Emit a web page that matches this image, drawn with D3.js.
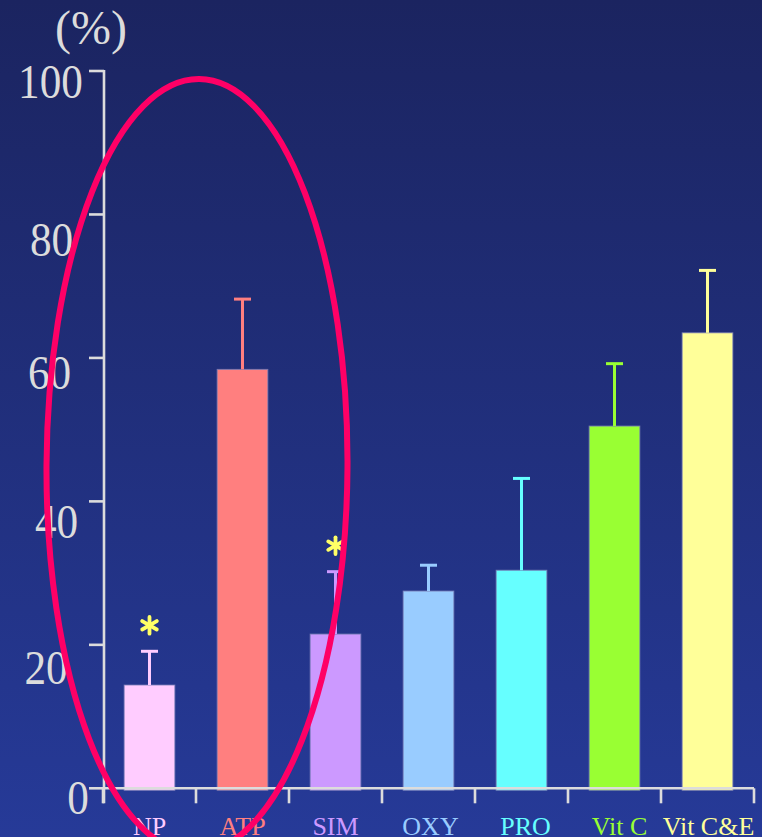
<!DOCTYPE html>
<html>
<head>
<meta charset="utf-8">
<script src="https://cdn.jsdelivr.net/npm/d3@7"></script>
<style>
  html, body { margin: 0; padding: 0; background: #1b2461; }
  svg { display: block; }
</style>
</head>
<body>
<div id="chart"></div>
<script>
// ---- data ----
const categories = ["NP", "ATP", "SIM", "OXY", "PRO", "Vit C", "Vit C&E"];
const means      = [14.4, 58.4, 21.5, 27.5, 30.4, 50.5, 63.5];
const sds        = [4.7, 9.8, 8.7, 3.6, 12.8, 8.7, 8.7];
const significant = [true, false, true, false, false, false, false];
const yTicks     = [0, 20, 40, 60, 80, 100];
const yUnitLabel = "(%)";

// ---- styles / layout (not data) ----
const barColors = ["#ffccff", "#ff7f7f", "#cc99ff", "#99ccff", "#66ffff", "#99ff33", "#ffff99"];
const labelDx   = [0, 0, 0, 2, 4, 5, 1];
// hand-placed tick label centres (as in the original slide)
const tickLabelCx = [78, 46, 56.5, 49.5, 51.5, 50.5];
const tickLabelDy = [9, 23, 20, 15, 25, 10.5];

const W = 762, H = 837;
const svg = d3.select("#chart").append("svg").attr("width", W).attr("height", H);

const defs = svg.append("defs");
const grad = defs.append("linearGradient").attr("id", "bg").attr("x1", 0).attr("y1", 0).attr("x2", 0).attr("y2", 1);
grad.append("stop").attr("offset", "0%").attr("stop-color", "#1b2460");
grad.append("stop").attr("offset", "100%").attr("stop-color", "#263a98");
svg.append("rect").attr("width", W).attr("height", H).attr("fill", "url(#bg)");

const x = d3.scaleBand().domain(categories).range([103, 754]).paddingInner(0.455).paddingOuter(0.2275);
const y = d3.scaleLinear().domain([0, 100]).range([788.3, 71]);
const step = x.step();
const axisColor = "#dcdcdc";
const serif = "'Liberation Serif', 'Times New Roman', serif";

// bars
svg.append("g").selectAll("rect").data(categories).join("rect")
  .attr("x", d => x(d))
  .attr("y", (d, i) => y(means[i]))
  .attr("width", x.bandwidth())
  .attr("height", (d, i) => y(0) + 2 - y(means[i]))
  .attr("fill", (d, i) => barColors[i])
  .attr("stroke", "#7b7fb8").attr("stroke-width", 1).attr("stroke-opacity", 0.8);

// error bars
const eb = svg.append("g");
categories.forEach((c, i) => {
  const cx = x(c) + x.bandwidth() / 2;
  const top = y(means[i] + sds[i]);
  eb.append("line").attr("x1", cx).attr("x2", cx).attr("y1", y(means[i])).attr("y2", top)
    .attr("stroke", barColors[i]).attr("stroke-width", 3);
  eb.append("line").attr("x1", cx - 8.5).attr("x2", cx + 8.5).attr("y1", top).attr("y2", top)
    .attr("stroke", barColors[i]).attr("stroke-width", 3);
});

// significance asterisks
const ast = svg.append("g");
categories.forEach((c, i) => {
  if (!significant[i]) return;
  const cx = x(c) + x.bandwidth() / 2;
  const cy = y(means[i] + sds[i]) - 26;
  const g = ast.append("g").attr("transform", `translate(${cx},${cy})`);
  [90, 30, 150].forEach(a => {
    const r = 8.4, rad = a * Math.PI / 180;
    g.append("line")
      .attr("x1", -r * Math.cos(rad)).attr("y1", -r * Math.sin(rad))
      .attr("x2", r * Math.cos(rad)).attr("y2", r * Math.sin(rad))
      .attr("stroke", "#ffff66").attr("stroke-width", 3.8).attr("stroke-linecap", "round");
  });
});

// y axis
const ax = svg.append("g").attr("stroke", axisColor).attr("stroke-width", 2.6).attr("fill", "none");
ax.append("line").attr("x1", 104).attr("x2", 104).attr("y1", y(100) - 1).attr("y2", y(0) + 15);
yTicks.forEach(t => {
  ax.append("line").attr("x1", 89).attr("x2", 104).attr("y1", y(t)).attr("y2", y(t));
});
// x axis
ax.append("line").attr("x1", 104).attr("x2", 754).attr("y1", y(0)).attr("y2", y(0));
d3.range(categories.length + 1).forEach(k => {
  const xx = 103 + k * step;
  ax.append("line").attr("x1", xx).attr("x2", xx).attr("y1", y(0)).attr("y2", y(0) + 15);
});

// y tick labels
const fs = 48;
svg.append("g").selectAll("text").data(yTicks).join("text")
  .attr("transform", (t, i) => `translate(${tickLabelCx[i]},${y(t) + tickLabelDy[i] + 0.338 * fs}) scale(0.9,1)`)
  .attr("text-anchor", "middle")
  .attr("font-family", serif).attr("font-size", fs)
  .attr("fill", axisColor)
  .text(t => t);

svg.append("text").attr("x", 91).attr("y", 44).attr("text-anchor", "middle")
  .attr("font-family", serif).attr("font-size", 48).attr("fill", axisColor)
  .text(yUnitLabel);

// x labels
svg.append("g").selectAll("text").data(categories).join("text")
  .attr("x", (d, i) => x(d) + x.bandwidth() / 2 + labelDx[i])
  .attr("y", 835)
  .attr("text-anchor", "middle")
  .attr("font-family", serif).attr("font-size", 26)
  .attr("fill", (d, i) => barColors[i])
  .text(d => d);

// highlight ellipse
svg.append("ellipse")
  .attr("cx", 197).attr("cy", 466).attr("rx", 150.5).attr("ry", 387)
  .attr("transform", "rotate(0.3,197,466)")
  .attr("fill", "none").attr("stroke", "#ff0066").attr("stroke-width", 6);
</script>
</body>
</html>
